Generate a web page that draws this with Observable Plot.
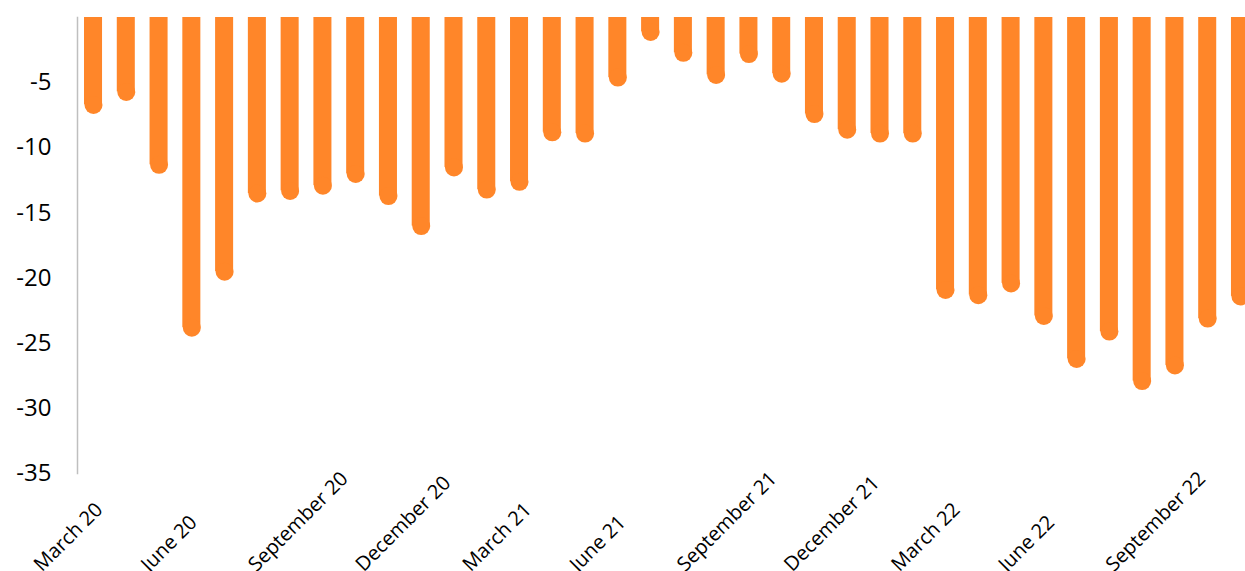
<!DOCTYPE html>
<html>
<head>
<meta charset="utf-8">
<script src="https://cdn.jsdelivr.net/npm/d3@7"></script>
<script src="https://cdn.jsdelivr.net/npm/@observablehq/plot@0.6"></script>
<style>
  html, body { margin: 0; padding: 0; background: #fff; overflow: hidden; }
  #chart svg { display: block; }
</style>
</head>
<body>
<div id="chart"></div>
<script>
// Monthly categories (March 2020 – February 2023)
const months = [
  "Mar 20","Apr 20","May 20","Jun 20","Jul 20","Aug 20","Sep 20","Oct 20","Nov 20","Dec 20","Jan 21","Feb 21",
  "Mar 21","Apr 21","May 21","Jun 21","Jul 21","Aug 21","Sep 21","Oct 21","Nov 21","Dec 21","Jan 22","Feb 22",
  "Mar 22","Apr 22","May 22","Jun 22","Jul 22","Aug 22","Sep 22","Oct 22","Nov 22","Dec 22","Jan 23","Feb 23"
];
// Series values
const values = [
  -7.4, -6.4, -12.0, -24.5, -20.2, -14.2, -14.0, -13.6, -12.7, -14.4, -16.7, -12.2,
  -13.9, -13.3, -9.5, -9.6, -5.3, -1.8, -3.4, -5.1, -3.5, -5.0, -8.1, -9.3,
  -9.6, -9.6, -21.6, -22.0, -21.1, -23.6, -26.9, -24.8, -28.6, -27.4, -23.8, -22.1
];
// Axis tick labels
const xTickLabels = [
  "March 20","June 20","September 20","December 20","March 21","June 21",
  "September 21","December 21","March 22","June 22","September 22"
];
const yTicks = [-5, -10, -15, -20, -25, -30, -35];

const data = months.map((m, i) => ({month: m, value: values[i]}));
const orange = "#ff8629";
const font = "'Open Sans', sans-serif";

const main = Plot.plot({
  width: 1245,
  height: 490,
  marginLeft: 77,
  marginRight: 0,
  marginTop: 17,
  marginBottom: 17,
  style: {fontFamily: font, color: "#000", background: "transparent"},
  x: {type: "band", domain: months, range: [77, 1256], round: false, paddingInner: 0.45, paddingOuter: 0.214, axis: null},
  y: {domain: [-35, 0], axis: null},
  marks: [
    Plot.frame({anchor: "left", stroke: "#bfbfbf", strokeWidth: 1.5}),
    Plot.axisY(yTicks, {tickSize: 0, tickPadding: 26, tickFormat: d => String(d), fontSize: 24, label: null}),
    Plot.barY(data, {x: "month", y: "value", fill: orange, insetBottom: 9}),
    Plot.dot(data, {x: "month", y: "value", r: 9, fill: orange, stroke: null, dy: -9})
  ]
});

const labels = Plot.plot({
  width: 1245,
  height: 110,
  marginTop: 0,
  marginBottom: 0,
  marginLeft: 0,
  marginRight: 0,
  style: {fontFamily: font, color: "#000", background: "transparent", overflow: "visible"},
  x: {type: "band", domain: xTickLabels, range: [77, 1256], round: false, padding: 0},
  marks: [
    Plot.axisX({anchor: "top", tickSize: 0, tickPadding: 0, tickRotate: -45, textAnchor: "start", lineAnchor: "bottom", fontSize: 20, dx: -89, dy: 82, label: null})
  ]
});

const el = document.getElementById("chart");
el.appendChild(main);
el.appendChild(labels);
</script>
</body>
</html>
